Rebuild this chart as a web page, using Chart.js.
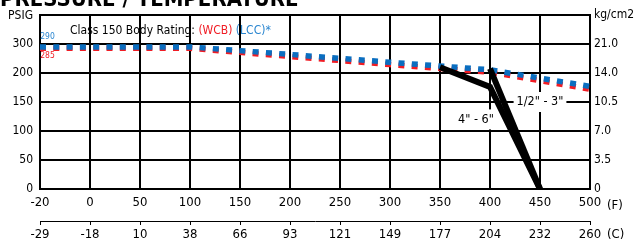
<!DOCTYPE html>
<html>
<head>
<meta charset="utf-8">
<script src="https://cdn.jsdelivr.net/npm/chart.js@4/dist/chart.umd.min.js"></script>
<style>
  html, body { margin: 0; padding: 0; background: #fff; }
  #wrap { position: relative; width: 635px; height: 244px; }
</style>
</head>
<body>
<div id="wrap"><canvas id="chart" width="635" height="244"></canvas></div>
<script>
// --- axis labels ---
const tempF = [-20, 0, 50, 100, 150, 200, 250, 300, 350, 400, 450, 500];
const tempC = [-29, -18, 10, 38, 66, 93, 121, 149, 177, 204, 232, 260];
const psiTicks = ['0', '50', '100', '150', '200', '300'];
const kgTicks = ['0', '3.5', '7.0', '10.5', '14.0', '21.0'];

// --- body rating (psig vs °F) ---
const curveTemps = [-20, 100, 200, 300, 400, 500];
const lccPsi = [290, 290, 264, 237, 211, 177];
const wcbPsi = [285, 285, 257, 229, 203, 172];

// --- seat limits ---
const bigTemps = [350, 400, 450];   // 4" - 6"
const bigPsi = [220, 176, 0];
const smallTemps = [400, 450];      // 1/2" - 3"
const smallPsi = [215, 0];

// the printed grid is not linear: -20..0 °F gets a whole cell, so does 200..300 psig
function tx(t) { return t <= 0 ? (t + 20) / 20 : 1 + t / 50; }
function py(p) { return p <= 200 ? p / 50 : 4 + (p - 200) / 100; }
const pts = (ts, ps) => ts.map((t, i) => ({ x: tx(t), y: py(ps[i]) }));

const FONT = '"DejaVu Sans Condensed", "DejaVu Sans", sans-serif';
const RED = '#f01c24';
const BLUE = '#0a6ec0';

function drawLabel(ctx, text, cx, cy) {
  const w = ctx.measureText(text).width;
  ctx.fillStyle = '#fff';
  ctx.fillRect(cx - w / 2 - 3, cy - 10, w + 6, 20);
  ctx.fillStyle = '#000';
  ctx.fillText(text, cx, cy);
}

const textPlugin = {
  id: 'texts',
  afterDraw(chart) {
    const { ctx, scales: { x, x2, y, y2 } } = chart;
    ctx.save();
    ctx.fillStyle = '#000';

    // title, cut off by the top edge like the source
    ctx.font = 'bold 22px ' + FONT;
    ctx.textAlign = 'left';
    ctx.textBaseline = 'alphabetic';
    ctx.fillText('PRESSURE / TEMPERATURE', 0, 6);

    ctx.font = '12px ' + FONT;
    ctx.textBaseline = 'middle';
    ctx.textAlign = 'right';
    ctx.fillText('PSIG', 33, y.top + 1);
    ctx.textAlign = 'left';
    ctx.fillText('kg/cm2', y2.left + 4, y2.top);

    ctx.font = '13px ' + FONT;
    ctx.fillText('(F)', x.right + 17, x.top + 17);
    ctx.fillText('(C)', x2.right + 17, x2.top + 14);

    // rating caption
    ctx.font = '12px ' + FONT;
    let cx = 70;
    const parts = [['Class 150 Body Rating: ', '#000'], ['(WCB)', RED], [' (LCC)*', '#2a86d0']];
    parts.forEach(([s, c]) => {
      ctx.fillStyle = c;
      ctx.fillText(s, cx, 31);
      cx += ctx.measureText(s).width;
    });

    // start values
    ctx.font = '8.5px ' + FONT;
    ctx.textAlign = 'center';
    ctx.fillStyle = '#2a86d0';
    ctx.fillText(String(lccPsi[0]), 47.5, 36.5);
    ctx.fillStyle = RED;
    ctx.fillText(String(wcbPsi[0]), 47.5, 55.5);

    // size labels on white boxes
    ctx.font = '12.5px ' + FONT;
    drawLabel(ctx, '1/2" - 3"', x.getPixelForValue(tx(450)), y.getPixelForValue(py(150)));
    drawLabel(ctx, '4" - 6"', x.getPixelForValue(tx(386)), y.getPixelForValue(py(120)));

    ctx.restore();
  }
};

const dash = [6, 7.3];
const allTicks = n => s => { s.ticks = Array.from({ length: n }, (_, i) => ({ value: i })); };

new Chart(document.getElementById('chart'), {
  type: 'line',
  data: {
    datasets: [
      { label: '4" - 6"', data: pts(bigTemps, bigPsi), borderColor: '#000', borderWidth: 6, order: 0 },
      { label: '1/2" - 3"', data: pts(smallTemps, smallPsi), borderColor: '#000', borderWidth: 6, order: 0 },
      { label: 'LCC', data: pts(curveTemps, lccPsi), borderColor: BLUE, borderWidth: 5.5, borderDash: dash, order: 1 },
      { label: 'WCB', data: pts(curveTemps, wcbPsi), borderColor: RED, borderWidth: 5.5, borderDash: dash, order: 2 }
    ]
  },
  options: {
    responsive: false,
    animation: false,
    layout: { padding: { top: 15, left: 0, right: 0, bottom: 0 } },
    plugins: { legend: { display: false }, tooltip: { enabled: false } },
    elements: { point: { radius: 0 }, line: { tension: 0, borderCapStyle: 'butt' } },
    scales: {
      x: {
        type: 'linear', min: 0, max: 11, position: 'bottom', weight: 0,
        afterBuildTicks: allTicks(12),
        ticks: { callback: v => tempF[v], font: { family: FONT, size: 13 }, color: '#000', padding: 6, maxRotation: 0, autoSkip: false },
        grid: { color: '#000', lineWidth: 2, tickLength: 0 },
        border: { display: true, color: '#000', width: 2 },
        afterFit: s => { s.height = 32; }
      },
      x2: {
        type: 'linear', min: 0, max: 11, position: 'bottom', weight: 1,
        afterBuildTicks: allTicks(12),
        ticks: { callback: v => tempC[v], font: { family: FONT, size: 13 }, color: '#000', padding: 2, maxRotation: 0, autoSkip: false },
        grid: { drawOnChartArea: false, color: '#000', lineWidth: 1, tickLength: 4 },
        border: { display: true, color: '#000', width: 1 },
        afterFit: s => { s.height = 23; }
      },
      y: {
        type: 'linear', min: 0, max: 6, position: 'left',
        afterBuildTicks: allTicks(7),
        ticks: { callback: v => psiTicks[v] ?? '', font: { family: FONT, size: 12 }, color: '#000', padding: 7 },
        grid: { color: '#000', lineWidth: 2, tickLength: 0 },
        border: { display: true, color: '#000', width: 2 },
        afterFit: s => { s.width = 40; }
      },
      y2: {
        type: 'linear', min: 0, max: 6, position: 'right',
        afterBuildTicks: allTicks(7),
        ticks: { callback: v => kgTicks[v] ?? '', font: { family: FONT, size: 12 }, color: '#000', padding: 4 },
        grid: { drawOnChartArea: false, tickLength: 0 },
        border: { display: true, color: '#000', width: 2 },
        afterFit: s => { s.width = 45; }
      }
    }
  },
  plugins: [textPlugin]
});
</script>
</body>
</html>
